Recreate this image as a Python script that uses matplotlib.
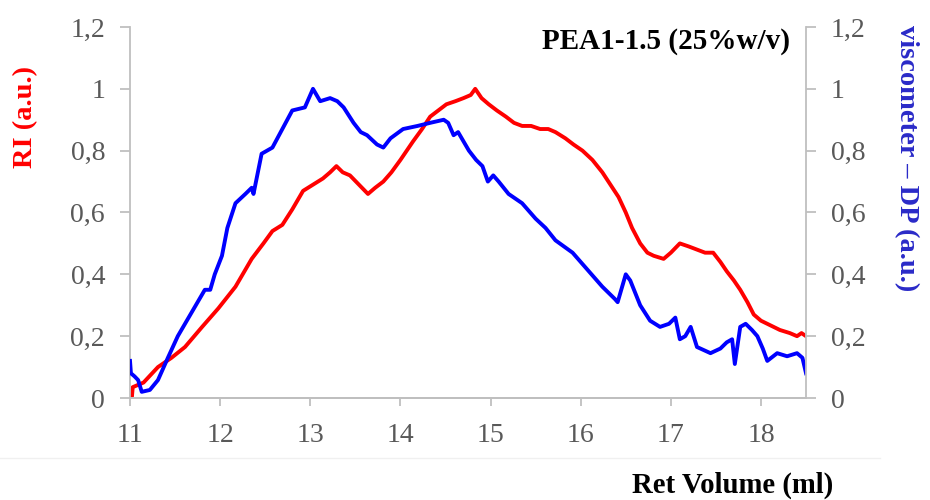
import numpy as np
import matplotlib
matplotlib.use('Agg')
import matplotlib.pyplot as plt
from matplotlib.lines import Line2D
from matplotlib.ticker import FuncFormatter, MultipleLocator

# RI detector trace (ret volume in ml, normalised signal)
ri_vol = [11.02, 11.03, 11.15, 11.31, 11.46, 11.61, 11.80, 11.98, 12.17, 12.35,
          12.48, 12.58, 12.69, 12.80, 12.92, 13.03, 13.14, 13.22, 13.29, 13.36,
          13.44, 13.54, 13.64, 13.72, 13.81, 13.90, 14.00, 14.14, 14.24, 14.33,
          14.42, 14.51, 14.61, 14.70, 14.78, 14.83, 14.90, 14.98, 15.07, 15.17,
          15.26, 15.35, 15.45, 15.55, 15.64, 15.72, 15.83, 15.92, 16.02, 16.13,
          16.24, 16.33, 16.42, 16.50, 16.57, 16.66, 16.74, 16.81, 16.92, 17.00,
          17.10, 17.20, 17.29, 17.38, 17.47, 17.55, 17.62, 17.70, 17.77, 17.85,
          17.92, 18.00, 18.07, 18.14, 18.21, 18.32, 18.40, 18.45, 18.50]
ri_sig = [0.00, 0.035, 0.05, 0.10, 0.13, 0.165, 0.23, 0.29, 0.36, 0.45,
          0.50, 0.54, 0.56, 0.61, 0.67, 0.69, 0.71, 0.73, 0.75, 0.73,
          0.72, 0.69, 0.66, 0.68, 0.70, 0.73, 0.77, 0.83, 0.87, 0.91,
          0.93, 0.95, 0.96, 0.97, 0.98, 1.00, 0.97, 0.95, 0.93, 0.91,
          0.89, 0.88, 0.88, 0.87, 0.87, 0.86, 0.84, 0.82, 0.80, 0.77,
          0.73, 0.69, 0.65, 0.60, 0.55, 0.50, 0.47, 0.46, 0.45, 0.47,
          0.50, 0.49, 0.48, 0.47, 0.47, 0.44, 0.41, 0.38, 0.35, 0.31,
          0.27, 0.25, 0.24, 0.23, 0.22, 0.21, 0.20, 0.21, 0.20]

# viscometer (DP) trace
dp_vol = [11.00, 11.01, 11.05, 11.09, 11.13, 11.22, 11.31, 11.42, 11.53, 11.69,
          11.83, 11.89, 11.94, 12.02, 12.08, 12.17, 12.28, 12.35, 12.37, 12.46,
          12.58, 12.69, 12.80, 12.94, 13.03, 13.11, 13.22, 13.30, 13.37, 13.48,
          13.56, 13.63, 13.74, 13.81, 13.89, 14.03, 14.19, 14.33, 14.48, 14.53,
          14.59, 14.64, 14.70, 14.76, 14.84, 14.91, 14.97, 15.03, 15.09, 15.20,
          15.35, 15.50, 15.61, 15.72, 15.91, 16.09, 16.24, 16.38, 16.41, 16.50,
          16.55, 16.66, 16.77, 16.88, 16.98, 17.05, 17.10, 17.16, 17.22, 17.29,
          17.44, 17.55, 17.62, 17.68, 17.71, 17.77, 17.83, 17.90, 17.96, 18.02,
          18.07, 18.18, 18.29, 18.40, 18.46, 18.50]
dp_sig = [0.12, 0.08, 0.07, 0.058, 0.02, 0.026, 0.058, 0.13, 0.20, 0.28,
          0.35, 0.35, 0.40, 0.46, 0.55, 0.63, 0.66, 0.68, 0.66, 0.79,
          0.81, 0.87, 0.93, 0.94, 1.00, 0.96, 0.97, 0.96, 0.94, 0.89,
          0.86, 0.85, 0.82, 0.81, 0.84, 0.87, 0.88, 0.89, 0.90, 0.89,
          0.85, 0.86, 0.83, 0.80, 0.77, 0.75, 0.70, 0.72, 0.70, 0.66,
          0.63, 0.58, 0.55, 0.51, 0.47, 0.41, 0.36, 0.32, 0.31, 0.40,
          0.38, 0.30, 0.25, 0.23, 0.24, 0.26, 0.19, 0.20, 0.23, 0.165,
          0.145, 0.16, 0.18, 0.19, 0.11, 0.23, 0.24, 0.22, 0.20, 0.16,
          0.12, 0.145, 0.135, 0.145, 0.13, 0.08]

x_ticks = [11, 12, 13, 14, 15, 16, 17, 18]

serif = ['Liberation Serif', 'DejaVu Serif']
grey = '#bfbfbf'
tick_grey = '#595959'

def comma(v, pos):
    return ('%g' % round(v, 2)).replace('.', ',')

fig = plt.figure(figsize=(9.3, 5.0), dpi=100)
ax = fig.add_axes([0.1398, 0.204, 0.7269, 0.742])
ax2 = ax.twinx()

ax.plot(ri_vol, ri_sig, color='#ff0000', lw=2.8, solid_joinstyle='round')
ax2.plot(dp_vol, dp_sig, color='#0000ff', lw=2.8, solid_joinstyle='round')

for a in (ax, ax2):
    a.set_xlim(11, 18.5)
    a.set_ylim(0, 1.2)
    a.yaxis.set_major_locator(MultipleLocator(0.2))
    a.yaxis.set_major_formatter(FuncFormatter(comma))
    a.spines['top'].set_visible(False)
    for s in ('left', 'right', 'bottom'):
        a.spines[s].set_color(grey)
        a.spines[s].set_linewidth(1.3)
    a.tick_params(colors=grey, labelcolor=tick_grey, length=7, width=1.3, labelsize=20, pad=11)
    for lbl in a.get_yticklabels() + a.get_xticklabels():
        lbl.set_family(serif)

ax.set_xticks(x_ticks)
ax.set_xticklabels([str(t) for t in x_ticks], family=serif)
ax.tick_params(axis='x', length=6, pad=12)
ax2.spines['left'].set_visible(False)
ax.spines['right'].set_visible(False)

ax.set_ylabel('RI (a.u.)', color='#ff0000', fontsize=20.5, fontweight='bold', family=serif)
ax2.set_ylabel('viscometer – DP (a.u.)', color='#2a2ac8', fontsize=20.5, fontweight='bold',
               family=serif, rotation=270)
ax.yaxis.set_label_coords(-0.136, 0.757)
ax2.yaxis.set_label_coords(1.167, 0.647)

ax.text(0.977, 0.96, 'PEA1-1.5 (25%w/v)', transform=ax.transAxes, ha='right', va='center',
        fontsize=21, fontweight='bold', family=serif)
fig.text(0.896, 0.03, 'Ret Volume (ml)', ha='right', va='center',
         fontsize=20.7, fontweight='bold', family=serif)

# faint edge of the plot area below the tick labels
fig.add_artist(Line2D([0.0, 0.946], [0.084, 0.084], transform=fig.transFigure,
                      color='#f0f0f0', lw=1.0))

fig.savefig('out.png', dpi=100)
